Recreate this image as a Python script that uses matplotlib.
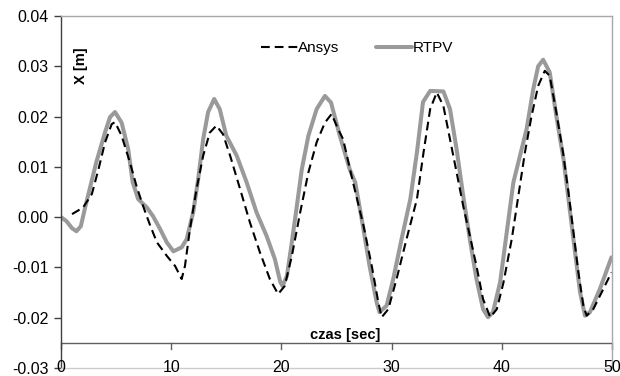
import matplotlib
matplotlib.use("Agg")
import matplotlib.pyplot as plt

plt.rcParams['font.family'] = ['Liberation Sans', 'DejaVu Sans']

# Ansys (dashed black)
ansys_t = [1.0, 2.0, 2.8, 3.4, 4.0, 4.6, 4.9, 5.5, 6.25, 6.85, 7.45, 8.1, 8.7, 9.6, 10.35, 10.95,
           11.25, 11.7, 12.3, 12.9, 13.5, 14.1, 14.7, 15.35, 16.25, 17.15, 18.05, 18.95, 19.7,
           20.3, 20.95, 21.7, 22.45, 23.2, 23.95, 24.55, 25.15, 25.6, 26.5, 27.45, 28.2, 28.8,
           29.1, 29.7, 30.45, 31.35, 32.3, 32.9, 33.5, 34.1, 34.7, 35.3, 35.9, 36.5, 37.1, 37.7,
           38.3, 38.95, 39.55, 40.15, 40.9, 41.5, 42.1, 42.7, 43.3, 43.9, 44.35, 44.95, 45.55,
           46.05, 46.5, 46.95, 47.4, 47.7, 48.3, 49.05, 49.95]
ansys_x = [0.0006, 0.0019, 0.0046, 0.0095, 0.0149, 0.0185, 0.0189, 0.0162, 0.0109, 0.0062, 0.0022,
           -0.0017, -0.0050, -0.0077, -0.0097, -0.0123, -0.0097, -0.0024, 0.0056, 0.0122, 0.0168,
           0.0182, 0.0165, 0.0122, 0.0056, -0.0011, -0.0070, -0.0123, -0.0153, -0.0137, -0.0077,
           0.0009, 0.0089, 0.0149, 0.0188, 0.0205, 0.0175, 0.0155, 0.0069, -0.0017, -0.0097,
           -0.0170, -0.0199, -0.0183, -0.0123, -0.0044, 0.0036, 0.0129, 0.0215, 0.0248, 0.0221,
           0.0155, 0.0089, 0.0022, -0.0037, -0.0097, -0.0163, -0.0199, -0.0183, -0.0130, -0.0044,
           0.0042, 0.0129, 0.0201, 0.0261, 0.0291, 0.0281, 0.0208, 0.0129, 0.0049, -0.0030,
           -0.0110, -0.0176, -0.0196, -0.0183, -0.0150, -0.0110]

# RTPV (solid grey)
rtpv_t = [0.0, 0.5, 1.0, 1.4, 1.8, 2.2, 3.2, 4.0, 4.45, 4.9, 5.5, 6.1, 6.5, 7.0, 7.8, 8.35, 9.0,
          9.6, 10.2, 10.95, 11.4, 12.0, 12.45, 12.9, 13.35, 13.9, 14.4, 15.0, 15.95, 16.85, 17.75,
          18.65, 19.4, 19.9, 20.1, 20.5, 20.9, 21.4, 21.85, 22.45, 23.2, 23.95, 24.5, 25.3, 26.2,
          26.7, 27.4, 28.0, 28.65, 28.9, 29.55, 30.15, 30.9, 31.7, 32.3, 32.85, 33.5, 34.7, 35.3,
          35.9, 36.5, 37.1, 37.7, 38.3, 38.75, 39.2, 39.85, 40.45, 41.05, 41.65, 42.25, 42.85,
          43.3, 43.75, 44.35, 44.95, 45.6, 46.05, 46.5, 47.1, 47.55, 48.0, 48.9, 49.95]
rtpv_x = [0.0, -0.0008, -0.0022, -0.0028, -0.0018, 0.0020, 0.0109, 0.0169, 0.0199, 0.0209, 0.0188,
          0.0135, 0.0070, 0.0036, 0.0019, 0.0002, -0.0024, -0.0050, -0.0068, -0.0060, -0.0044,
          0.0010, 0.0076, 0.0155, 0.0209, 0.0235, 0.0215, 0.0162, 0.0122, 0.0069, 0.0009,
          -0.0037, -0.0083, -0.0129, -0.0137, -0.0117, -0.0057, 0.0022, 0.0095, 0.0162, 0.0215,
          0.0241, 0.0228, 0.0162, 0.0095, 0.0069, -0.0018, -0.0097, -0.0170, -0.0189, -0.0176,
          -0.0123, -0.0044, 0.0036, 0.0129, 0.0229, 0.0251, 0.0250, 0.0215, 0.0135, 0.0042,
          -0.0044, -0.0123, -0.0183, -0.0199, -0.0189, -0.0129, -0.0030, 0.0069, 0.0122, 0.0175,
          0.0254, 0.0300, 0.0313, 0.0288, 0.0201, 0.0115, 0.0036, -0.0044, -0.0149, -0.0196,
          -0.0189, -0.0143, -0.0080]

x_ticks = [0, 10, 20, 30, 40, 50]
y_ticks = [0.04, 0.03, 0.02, 0.01, 0.00, -0.01, -0.02, -0.03]

fig = plt.figure(figsize=(6.2, 3.76), dpi=100)
ax = fig.add_axes([61 / 620, 1 - 368 / 376, 551 / 620, 352 / 376])
ax.set_xlim(0, 50)
ax.set_ylim(-0.03, 0.04)

ax.plot(rtpv_t, rtpv_x, color='#9a9a9a', lw=2.9, label='RTPV', solid_capstyle='round',
        solid_joinstyle='round', zorder=2)
ax.plot(ansys_t, ansys_x, color='black', lw=1.5, dashes=(4.2, 2.4), label='Ansys',
        dash_joinstyle='round', zorder=3)

# spines
for s in ['top', 'right']:
    ax.spines[s].set_color('#a8a8a8')
    ax.spines[s].set_linewidth(1.0)
ax.spines['bottom'].set_color('#cccccc')
ax.spines['bottom'].set_linewidth(1.0)
ax.spines['left'].set_color('#404040')
ax.spines['left'].set_linewidth(1.0)

# y ticks
ax.set_yticks(y_ticks)
ax.set_yticklabels([f"{v:.2f}" for v in y_ticks], fontsize=11.5)
ax.tick_params(axis='y', direction='out', length=5, width=1, color='#404040', pad=4)

# x axis at -0.025
ax.set_xticks([])
ax.axhline(-0.025, color='#606060', lw=1.0, zorder=1)
for t in x_ticks:
    ax.plot([t, t], [-0.025, -0.0262], color='#606060', lw=1.0, clip_on=False, zorder=1)
    ax.text(t, -0.03, str(t), ha='center', va='center', fontsize=11.5, clip_on=False)

ax.text((380 - 61) / 551 * 50, -0.0235, 'czas [sec]', ha='right', va='center',
        fontsize=10.5, fontweight='bold')
ax.text(0.036, 0.86, 'X [m]', rotation=90, ha='center', va='center', fontsize=10.5,
        fontweight='bold', transform=ax.transAxes)

handles, labels = ax.get_legend_handles_labels()
leg = ax.legend(handles[::-1], labels[::-1], loc='center', bbox_to_anchor=(0.537, 0.909), ncol=2,
                frameon=False, fontsize=11, handlelength=2.4, handletextpad=0.0,
                columnspacing=2.4)

fig.savefig('out.png', dpi=100)
